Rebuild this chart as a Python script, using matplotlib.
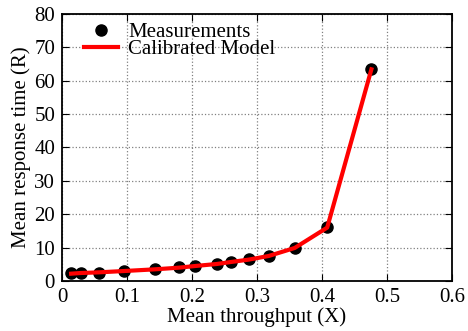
import numpy as np
import matplotlib
matplotlib.use("Agg")
import matplotlib.pyplot as plt

plt.rcParams['font.family'] = ['Liberation Serif', 'DejaVu Serif']
plt.rcParams['mathtext.fontset'] = 'stix'

# Data
throughput = [0.014, 0.029, 0.057, 0.096, 0.143, 0.180, 0.205, 0.238, 0.260,
              0.287, 0.318, 0.358, 0.408, 0.476]
measured = [2.3, 2.4, 2.5, 3.0, 3.5, 4.1, 4.5, 5.1, 5.7, 6.5, 7.6, 10.0, 16.3, 63.4]
model = [2.2, 2.4, 2.6, 3.0, 3.5, 4.0, 4.5, 5.1, 5.7, 6.4, 7.5, 9.9, 16.0, 63.4]

fig = plt.figure(figsize=(4.68, 3.31), dpi=100)
ax = fig.add_axes([0.1325, 0.151, 0.8333, 0.807])

ax.plot(throughput, measured, 'o', color='black', markersize=8, label='Measurements', zorder=3)
ax.plot(throughput, model, '-', color='red', linewidth=3, label='Calibrated Model', zorder=4)

ax.set_xlim(0, 0.6)
ax.set_ylim(0, 80)
ax.set_xticks(np.arange(0, 0.61, 0.1))
ax.set_xticklabels(['0', '0.1', '0.2', '0.3', '0.4', '0.5', '0.6'])
ax.set_yticks(np.arange(0, 81, 10))
ax.tick_params(direction='in', top=True, right=True, length=5, labelsize=15, pad=5)
ax.grid(True, linestyle=':', color='gray', linewidth=0.9)
for s in ax.spines.values():
    s.set_linewidth(1.3)

ax.set_xlabel('Mean throughput (X)', fontsize=15, labelpad=0)
ax.set_ylabel('Mean response time (R)', fontsize=15, labelpad=2)

ax.legend(loc='upper left', frameon=False, fontsize=15, handlelength=1.6,
          handletextpad=0.5, borderaxespad=0, labelspacing=-0.1,
          bbox_to_anchor=(0.036, 1.0))

fig.savefig('out.png', dpi=100)
